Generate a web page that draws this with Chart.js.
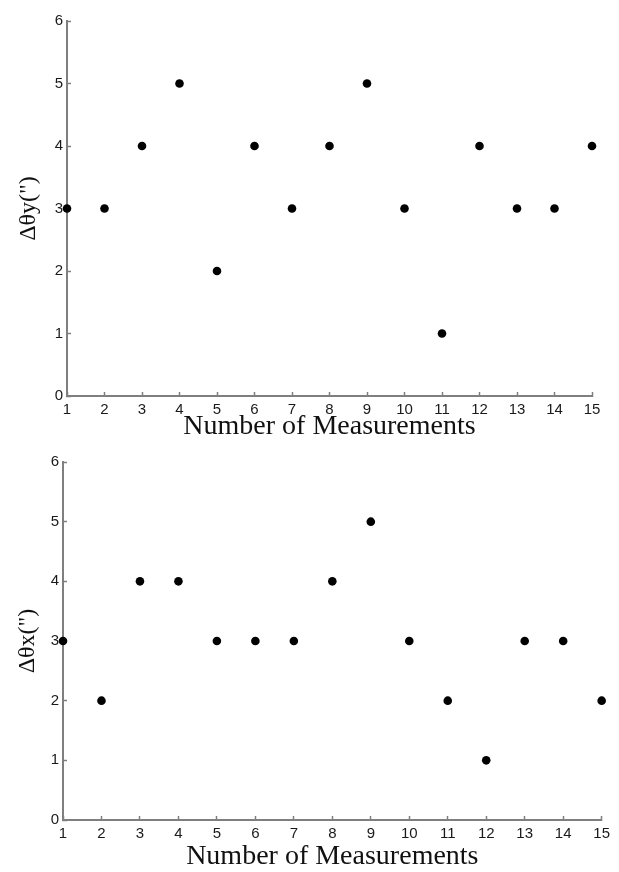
<!DOCTYPE html>
<html>
<head>
<meta charset="utf-8">
<script src="https://cdn.jsdelivr.net/npm/chart.js@4/dist/chart.umd.min.js"></script>
<style>
    body { margin: 0; background: #fff; }
    .plot { position: absolute; left: 0; }
</style>
</head>
<body>
<div class="plot" style="top:0"><canvas id="theta-y-chart" width="619" height="445"></canvas></div>
<div class="plot" style="top:445px"><canvas id="theta-x-chart" width="619" height="427"></canvas></div>
<script>
const measurements = [1, 2, 3, 4, 5, 6, 7, 8, 9, 10, 11, 12, 13, 14, 15];
const thetaY = [3, 3, 4, 5, 2, 4, 3, 4, 5, 3, 1, 4, 3, 3, 4];
const thetaX = [3, 2, 4, 4, 3, 3, 3, 4, 5, 3, 2, 1, 3, 3, 2];
const yTicks = [0, 1, 2, 3, 4, 5, 6];

const AXIS_GREY = '#7f7f7f';

(function () {
    renderScatter('theta-y-chart', thetaY, 'Δθy(")', {
        padding: { top: 21, right: 27 },
        yWidth: 67,
        xHeight: 49,
        xTitlePad: 4,
        yTitlePad: 17,
    });
    renderScatter('theta-x-chart', thetaX, 'Δθx(")', {
        padding: { top: 10, right: 11 },
        yWidth: 63,
        xHeight: 52,
        xTitlePad: 1,
        yTitlePad: 16,
    });
})();

function renderScatter(id, values, yLabel, box) {
    const elm = document.getElementById(id);
    if (!elm) return;

    const points = measurements.map((m, i) => ({ x: m, y: values[i] }));

    new Chart(elm.getContext('2d'), {
        type: 'scatter',
        data: {
            datasets: [{
                data: points,
                pointRadius: 4.3,
                pointHoverRadius: 4.3,
                backgroundColor: '#000',
                borderWidth: 0,
                clip: false,
            }],
        },
        options: {
            responsive: false,
            animation: false,
            layout: { padding: { left: 0, bottom: 0, ...box.padding } },
            plugins: {
                legend: { display: false },
                tooltip: { enabled: false },
            },
            scales: {
                x: {
                    type: 'linear',
                    min: measurements[0],
                    max: measurements[measurements.length - 1],
                    afterFit: scale => { scale.height = box.xHeight; },
                    afterBuildTicks: scale => {
                        scale.ticks = measurements.map(v => ({ value: v }));
                    },
                    border: { color: AXIS_GREY, width: 2 },
                    grid: {
                        drawOnChartArea: false,
                        tickLength: -4,
                        tickColor: AXIS_GREY,
                        tickWidth: 1.5,
                    },
                    ticks: {
                        padding: 9,
                        color: '#1a1a1a',
                        font: { family: 'Liberation Sans', size: 15 },
                    },
                    title: {
                        display: true,
                        text: 'Number of Measurements',
                        color: '#111',
                        padding: { top: 0, bottom: box.xTitlePad },
                        font: { family: 'Liberation Serif', size: 28, lineHeight: 1 },
                    },
                },
                y: {
                    min: yTicks[0],
                    max: yTicks[yTicks.length - 1],
                    afterFit: scale => { scale.width = box.yWidth; },
                    afterBuildTicks: scale => {
                        scale.ticks = yTicks.map(v => ({ value: v }));
                    },
                    border: { color: AXIS_GREY, width: 2 },
                    grid: {
                        drawOnChartArea: false,
                        tickLength: -4,
                        tickColor: AXIS_GREY,
                        tickWidth: 1.5,
                    },
                    ticks: {
                        padding: 8,
                        color: '#1a1a1a',
                        font: { family: 'Liberation Sans', size: 15 },
                    },
                    title: {
                        display: true,
                        text: yLabel,
                        color: '#111',
                        padding: { top: box.yTitlePad, bottom: 0 },
                        font: { family: 'Liberation Serif', size: 24, lineHeight: 1 },
                    },
                },
            },
        },
    });
}
</script>
</body>
</html>
